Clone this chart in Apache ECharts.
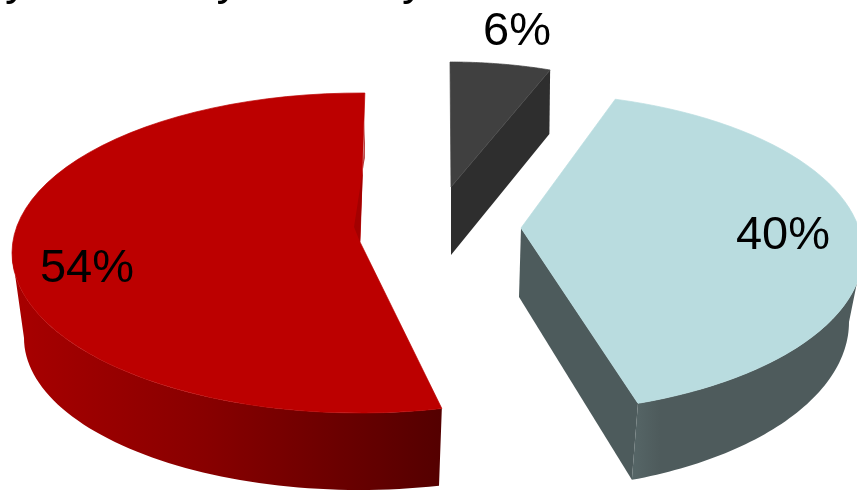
<!DOCTYPE html>
<html>
<head>
<meta charset="utf-8">
<style>html,body{margin:0;padding:0;background:#fff}#c{width:857px;height:490px;overflow:hidden}</style>
<script src="https://cdn.jsdelivr.net/npm/echarts@6/dist/echarts.min.js"></script>
</head>
<body>
<div id="c"></div>
<script>
var titleText = 'y Recovery & Assay';
var sliceValues = [40, 54, 6];
var sliceColors = ['#b9dcdf', '#bc0000', '#404040'];

// Pseudo-3D placement of each exploded wedge (top ellipse, bottom ellipse, apexes, label anchor).
var layout = [
  { start: 16, top: {cx: 521, cy: 253, rx: 342, ry: 160}, bot: {cx: 519, cy: 322, rx: 330, ry: 168},
    apex: [521, 228], apexLow: [519, 297], label: [783, 236] },
  { start: 166.4, top: {cx: 360, cy: 253, rx: 348, ry: 160}, bot: {cx: 360, cy: 338, rx: 336, ry: 152},
    apex: [360, 242], apexLow: [354, 227], label: [87, 269] },
  { start: 0, top: {cx: 450, cy: 176, rx: 272, ry: 114}, bot: {cx: 450, cy: 240, rx: 270, ry: 114},
    apex: [451, 187], apexLow: [451, 255], label: [517, 32] }
];

function pt(e, deg) {
  var t = deg * Math.PI / 180;
  return [e.cx + e.rx * Math.sin(t), e.cy - e.ry * Math.cos(t)];
}
function arc(e, a, b) {
  var n = 60, out = [];
  for (var i = 0; i <= n; i++) out.push(pt(e, a + (b - a) * i / n));
  return out;
}
function poly(points, fill, z, stroke) {
  return { type: 'polygon', z2: z, shape: { points: points },
    style: { fill: fill, stroke: stroke || null, lineWidth: stroke ? 0.7 : 0 } };
}
function hGrad(stops) {
  return new echarts.graphic.LinearGradient(0, 0, 1, 0, stops.map(function (s) {
    return { offset: s[0], color: s[1] };
  }));
}

function renderSlice(params, api) {
  var i = params.dataIndex, L = layout[i];
  var sweep = api.value(0) * 3.6, a = L.start, b = a + sweep;
  var kids = [];
  var topFace = [L.apex].concat(arc(L.top, a, b));
  if (i === 0) {
    kids.push(poly([L.apex, L.apexLow, pt(L.bot, b), pt(L.top, b)], '#4d5b5c', 1));
    kids.push(poly(arc(L.top, 90, b).concat(arc(L.bot, 90, b).reverse()),
      hGrad([[0, '#566667'], [0.12, '#4e5b5c'], [1, '#4e5b5c']]), 1));
  } else if (i === 1) {
    kids.push(poly(arc(L.top, a, 270).concat(arc(L.bot, a, 270).reverse()),
      hGrad([[0, '#a80000'], [0.45, '#880000'], [1, '#540000']]), 1));
  } else {
    kids.push(poly([L.apex, L.apexLow, pt(L.bot, b), pt(L.top, b)], '#2e2e2e', 1));
  }
  kids.push(poly(topFace, sliceColors[i], 2, sliceColors[i]));
  if (i === 1) {
    var p = pt(L.top, b), q = pt(L.bot, b);
    kids.push(poly([[p[0], p[1] + 29], [q[0], q[1] - 28], L.apexLow, L.apex], '#a30000', 3));
  }
  kids.push({
    type: 'text', z2: 5,
    style: {
      text: api.value(0) + '%', x: L.label[0], y: L.label[1],
      textAlign: 'center', textVerticalAlign: 'middle',
      font: '47px "Liberation Sans", Arial, sans-serif', fill: '#000'
    }
  });
  return { type: 'group', children: kids };
}

var chart = echarts.init(document.getElementById('c'), null, { renderer: 'canvas' });
chart.setOption({
  animation: false,
  backgroundColor: '#fff',
  title: {
    text: titleText, left: 5, top: -42, padding: 0,
    textStyle: { fontFamily: '"Liberation Sans", Arial, sans-serif', fontSize: 47, fontWeight: 'normal', color: '#000' }
  },
  series: [{
    type: 'custom',
    coordinateSystem: 'none',
    renderItem: renderSlice,
    data: sliceValues.map(function (v) { return [v]; })
  }]
});
</script>
</body>
</html>
